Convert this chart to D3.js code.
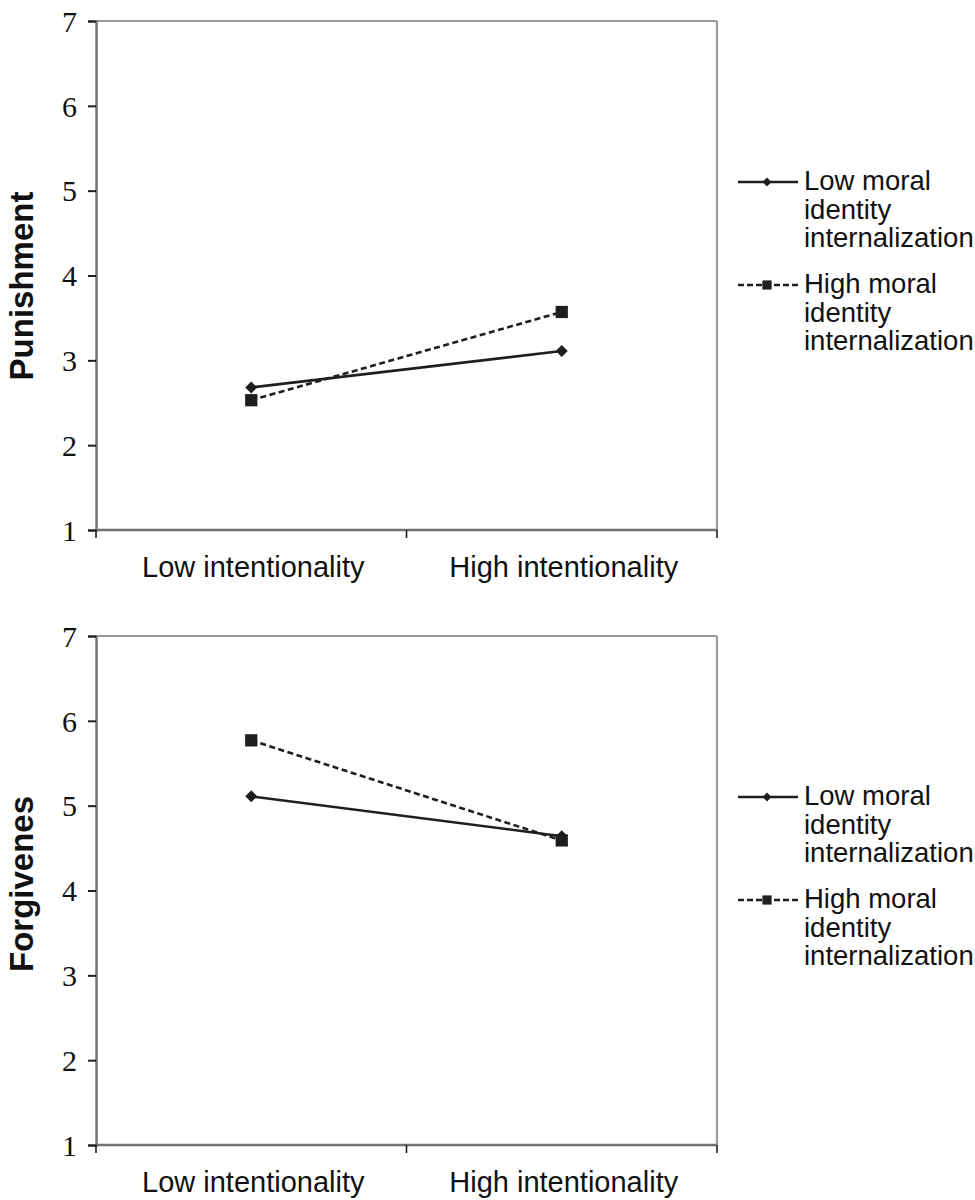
<!DOCTYPE html>
<html>
<head>
<meta charset="utf-8">
<script src="https://cdn.jsdelivr.net/npm/d3@7"></script>
<style>
  body { margin: 0; background: #fff; }
</style>
</head>
<body>
<svg width="975" height="1200"></svg>
<script>
// chart values
var categories = ["Low intentionality", "High intentionality"];
var yTicks = [1, 2, 3, 4, 5, 6, 7];
var legendLow = ["Low moral", "identity", "internalization"];
var legendHigh = ["High moral", "identity", "internalization"];

var punishLow = [2.68, 3.11];
var punishHigh = [2.53, 3.57];
var forgiveLow = [5.11, 4.64];
var forgiveHigh = [5.77, 4.59];

var titles = ["Punishment", "Forgivenes"];

var svg = d3.select("svg");
var ink = "#1e1e1e";
var serif = "'Liberation Serif', 'Times New Roman', 'DejaVu Serif', serif";
var sans = "'Liberation Sans', Arial, sans-serif";

var left = 96, right = 717;
var x = d3.scaleBand().domain(categories).range([left, right]);

// diamond drawn as a square turned 45 degrees, like the original markers
var square = d3.symbol().type(d3.symbolSquare);

function drawPanel(top, bottom, title, lowVals, highVals, titleCenter) {
  var y = d3.scaleLinear().domain([1, 7]).range([bottom, top]);
  var g = svg.append("g");

  // frame: light top/right, darker left/bottom
  g.append("line").attr("x1", left).attr("x2", right).attr("y1", top).attr("y2", top)
    .attr("stroke", "#9a9a9a").attr("stroke-width", 2.2);
  g.append("line").attr("x1", right).attr("x2", right).attr("y1", top).attr("y2", bottom)
    .attr("stroke", "#9a9a9a").attr("stroke-width", 2.2);

  // y axis
  var yAxis = g.append("g").attr("transform", "translate(" + left + ",0)")
    .call(d3.axisLeft(y).tickValues(yTicks).tickSize(8).tickPadding(11).tickFormat(d3.format("d")));
  yAxis.attr("font-family", null).attr("font-size", null);
  yAxis.select(".domain").attr("stroke", "#707070").attr("stroke-width", 2.4);
  yAxis.selectAll(".tick line").attr("stroke", ink).attr("stroke-width", 2);
  yAxis.selectAll(".tick text")
    .style("font-family", serif).style("font-size", "30px")
    .attr("fill", "#111").attr("dy", "0.34em");

  // x axis with ticks at band edges
  var edges = categories.map(function(c) { return x(c); }).concat([right]);
  g.append("line").attr("x1", left).attr("x2", right).attr("y1", bottom).attr("y2", bottom)
    .attr("stroke", "#707070").attr("stroke-width", 2.4);
  g.selectAll(".xtick").data(edges).enter().append("line")
    .attr("x1", function(d) { return d; }).attr("x2", function(d) { return d; })
    .attr("y1", bottom).attr("y2", bottom + 8)
    .attr("stroke", ink).attr("stroke-width", 1.6);
  g.selectAll(".cat").data(categories).enter().append("text")
    .style("font-family", sans).style("font-size", "29px")
    .attr("fill", "#111")
    .attr("x", function(d) { return x(d) + x.bandwidth() / 2 + 2; })
    .attr("y", bottom + 47)
    .attr("text-anchor", "middle")
    .text(function(d) { return d; });

  // y title
  g.append("text")
    .style("font-family", sans).style("font-size", "33px").style("font-weight", "bold")
    .attr("fill", "#111")
    .attr("transform", "translate(33," + titleCenter + ") rotate(-90)")
    .attr("text-anchor", "middle")
    .text(title);

  var line = d3.line()
    .x(function(d, i) { return x(categories[i]) + x.bandwidth() / 2; })
    .y(function(d) { return y(d); });

  g.append("path").datum(lowVals).attr("d", line)
    .attr("fill", "none").attr("stroke", ink).attr("stroke-width", 2.6);
  g.append("path").datum(highVals).attr("d", line)
    .attr("fill", "none").attr("stroke", ink).attr("stroke-width", 2.6).attr("stroke-dasharray", "6,3.5");

  g.selectAll(".mlow").data(lowVals).enter().append("path")
    .attr("d", square.size(72))
    .attr("transform", function(d, i) { return "translate(" + (x(categories[i]) + x.bandwidth() / 2) + "," + y(d) + ") rotate(45)"; })
    .attr("fill", ink);
  g.selectAll(".mhigh").data(highVals).enter().append("path")
    .attr("d", square.size(150))
    .attr("transform", function(d, i) { return "translate(" + (x(categories[i]) + x.bandwidth() / 2) + "," + y(d) + ")"; })
    .attr("fill", ink);

  // legend
  var lg = g.append("g").attr("transform", "translate(738," + (top + 161) + ")");
  var items = [
    { lines: legendLow, dash: null, size: 40, rot: 45, dy: 0 },
    { lines: legendHigh, dash: "6,3", size: 85, rot: 0, dy: 103 }
  ];
  items.forEach(function(it) {
    var ig = lg.append("g").attr("transform", "translate(0," + it.dy + ")");
    ig.append("line").attr("x1", 0).attr("x2", 60).attr("y1", 0).attr("y2", 0)
      .attr("stroke", ink).attr("stroke-width", 2.6)
      .attr("stroke-dasharray", it.dash);
    ig.append("path").attr("d", square.size(it.size))
      .attr("transform", "translate(29,0) rotate(" + it.rot + ")").attr("fill", ink);
    ig.selectAll("text").data(it.lines).enter().append("text")
      .style("font-family", sans).style("font-size", "27.5px")
      .attr("fill", "#111")
      .attr("x", 66)
      .attr("y", function(d, i) { return 8 + i * 28.5; })
      .text(function(d) { return d; });
  });
}

drawPanel(21, 530, titles[0], punishLow, punishHigh, 286);
drawPanel(636, 1145, titles[1], forgiveLow, forgiveHigh, 884);
</script>
</body>
</html>
